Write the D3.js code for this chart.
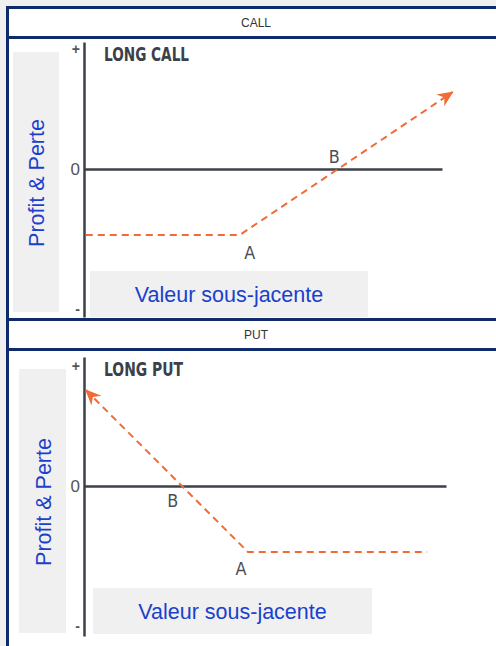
<!DOCTYPE html>
<html lang="fr">
  <head>
    <meta charset="utf-8" />
    <style>
      html,
      body {
        margin: 0;
        padding: 0;
        background: #f0f0f0;
      }

      svg {
        display: block;
      }
    </style>
    <script src="https://d3js.org/d3.v7.min.js"></script>
  </head>
  <body>
    <svg width="496" height="646"></svg>

    <script>
      // underlying value (0-100) vs profit & loss (arbitrary units)
      var callTitle = 'LONG CALL',
        callX = [0.5, 43.5, 103],
        callY = [-3.3, -3.3, 3.85],
        callLabels = [['A', 43.5, -3.3], ['B', 71, 0]];

      var putTitle = 'LONG PUT',
        putX = [0.5, 45.3, 94.8],
        putY = [4.8, -3.3, -3.3],
        putLabels = [['B', 27, 0], ['A', 45.3, -3.3]];

      var yTicks = [6, 0, -7],
        yTickText = ['+', '0', '-'],
        yTitle = 'Profit & Perte',
        xTitle = 'Valeur sous-jacente';

      var svg = d3.select('svg'),
        blue = '#0f2b6c',
        ink = '#3c4049',
        orange = '#f26a35',
        labelBlue = '#1b40cc';

      svg.append('rect')
        .attr('x', 7.5).attr('y', 7.5)
        .attr('width', 496).attr('height', 646)
        .attr('fill', '#fff')
        .attr('stroke', blue)
        .attr('stroke-width', 3);

      var defs = svg.append('defs');
      defs.append('marker')
        .attr('id', 'head')
        .attr('markerUnits', 'userSpaceOnUse')
        .attr('viewBox', '-16 -8 18 16')
        .attr('markerWidth', 18).attr('markerHeight', 16)
        .attr('refX', 0).attr('refY', 0)
        .attr('orient', 'auto-start-reverse')
        .append('path')
        .attr('d', 'M1,0 L-15,-7 L-10,0 L-15,7 Z')
        .attr('fill', orange);

      function header(y0, y1, text) {
        [y0, y1].forEach(function(yy) {
          svg.append('line')
            .attr('x1', 7).attr('x2', 496)
            .attr('y1', yy).attr('y2', yy)
            .attr('stroke', blue).attr('stroke-width', 3);
        });
        svg.append('text')
          .attr('x', 256).attr('y', (y0 + y1) / 2 + 4)
          .attr('text-anchor', 'middle')
          .attr('font-family', 'Liberation Sans, Arial, sans-serif')
          .attr('font-size', 12)
          .attr('fill', '#333')
          .text(text);
      }

      function panel(o) {
        var g = svg.append('g');
        var x = d3.scaleLinear().domain([0, 100]).range([o.left, o.right]);
        var y = d3.scaleLinear().domain(o.yDomain).range([o.bottom, o.top]);

        // grey boxes behind the axis titles
        g.append('rect')
          .attr('x', o.yBox[0]).attr('y', o.yBox[1])
          .attr('width', o.yBox[2]).attr('height', o.yBox[3])
          .attr('fill', '#f0f0f0');
        g.append('rect')
          .attr('x', o.xBox[0]).attr('y', o.xBox[1])
          .attr('width', o.xBox[2]).attr('height', o.xBox[3])
          .attr('fill', '#f0f0f0');

        g.append('text')
          .attr('transform', 'translate(' + (o.yBox[0] + o.yBox[2] / 2 + 8) + ',' + o.yMid + ') rotate(-90)')
          .attr('text-anchor', 'middle')
          .attr('font-family', 'Liberation Sans, Arial, sans-serif')
          .attr('font-size', 21.5)
          .attr('fill', labelBlue)
          .text(yTitle);
        g.append('text')
          .attr('x', o.xBox[0] + o.xBox[2] / 2)
          .attr('y', o.xBox[1] + o.xBox[3] / 2 + 8)
          .attr('text-anchor', 'middle')
          .attr('font-family', 'Liberation Sans, Arial, sans-serif')
          .attr('font-size', 21.5)
          .attr('fill', labelBlue)
          .text(xTitle);

        // y axis
        var ya = g.append('g')
          .attr('transform', 'translate(' + o.left + ',0)')
          .call(d3.axisLeft(y).tickValues(yTicks).tickSize(0).tickPadding(4)
            .tickFormat(function(d, i) { return yTickText[i]; }));
        ya.select('.domain').attr('stroke', ink).attr('stroke-width', 2.5);
        ya.selectAll('text')
          .attr('font-family', 'Liberation Sans, Arial, sans-serif')
          .attr('fill', '#555')
          .attr('font-size', function(d) { return d === 0 ? 17 : 14; })
          .attr('font-weight', 'bold');
        ya.selectAll('text').filter(function(d) { return d === 0; }).attr('font-weight', 'normal');

        // zero line
        var xa = g.append('g')
          .attr('transform', 'translate(0,' + y(0) + ')')
          .call(d3.axisBottom(x).tickValues([]).tickSizeOuter(0));
        xa.select('.domain').attr('stroke', ink).attr('stroke-width', 2.5);

        g.append('text')
          .attr('x', o.left + 20).attr('y', o.top + 19)
          .attr('font-family', 'DejaVu Sans, sans-serif')
          .style('font-stretch', 'condensed')
          .attr('font-weight', 'bold')
          .attr('font-size', 20)
          .attr('textLength', o.titleLen)
          .attr('lengthAdjust', 'spacingAndGlyphs')
          .attr('fill', ink)
          .text(o.title);

        var line = d3.line()
          .x(function(d) { return x(d[0]); })
          .y(function(d) { return y(d[1]); });

        g.append('path')
          .datum(d3.zip(o.xs, o.ys))
          .attr('d', line)
          .attr('fill', 'none')
          .attr('stroke', orange)
          .attr('stroke-width', 2)
          .attr('stroke-dasharray', '7,5')
          .attr(o.arrowEnd ? 'marker-end' : 'marker-start', 'url(#head)');

        g.selectAll('.pt')
          .data(o.labels)
          .enter().append('text')
          .attr('class', 'pt')
          .attr('x', function(d, i) { return x(d[1]) + o.labelOff[i][0]; })
          .attr('y', function(d, i) { return y(d[2]) + o.labelOff[i][1]; })
          .attr('text-anchor', 'middle')
          .attr('font-family', 'DejaVu Sans, sans-serif')
          .style('font-stretch', 'condensed')
          .attr('font-size', 18)
          .attr('textLength', 11)
          .attr('lengthAdjust', 'spacingAndGlyphs')
          .attr('fill', '#4a4e57')
          .text(function(d) { return d[0]; });
      }

      header(7.5, 37.5, 'CALL');
      panel({
        left: 84, right: 442, top: 42, bottom: 317,
        yDomain: [-7.4, 6.35],
        yBox: [13, 52, 46, 260], yMid: 183,
        xBox: [90, 271, 278, 46],
        title: callTitle, titleLen: 85, xs: callX, ys: callY, arrowEnd: true,
        labels: callLabels, labelOff: [[10, 24], [-4, -6]]
      });

      header(319.5, 349.5, 'PUT');
      panel({
        left: 84, right: 446, top: 357, bottom: 636,
        yDomain: [-7.5, 6.45],
        yBox: [19, 369, 47, 264], yMid: 502,
        xBox: [93, 588, 279, 46],
        title: putTitle, titleLen: 79, xs: putX, ys: putY, arrowEnd: false,
        labels: putLabels, labelOff: [[-9, 21], [-7, 23]]
      });
    </script>
  </body>
</html>
